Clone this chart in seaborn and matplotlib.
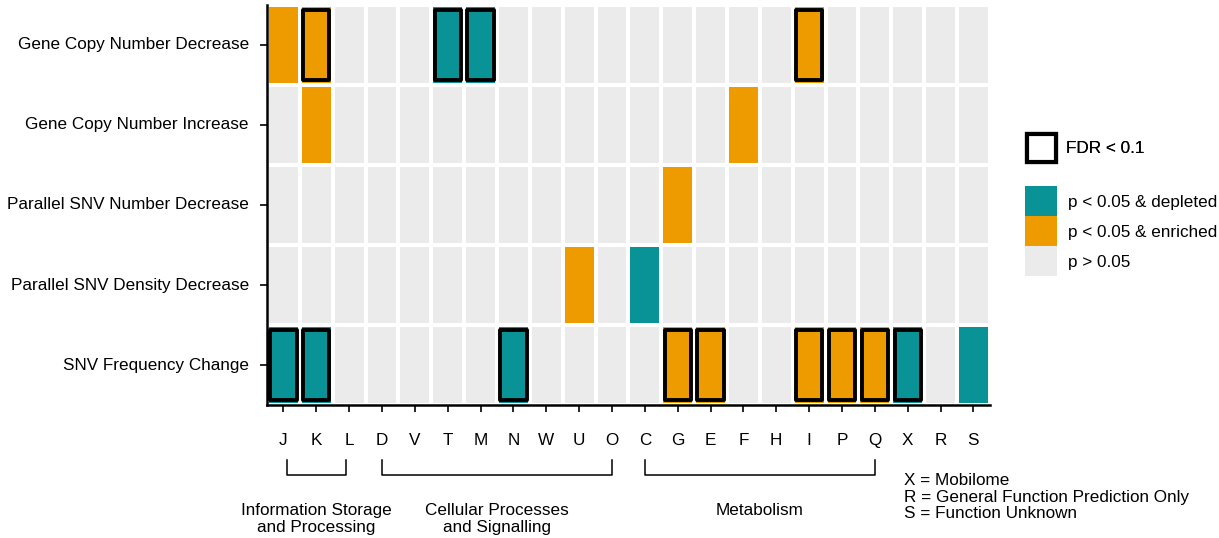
import matplotlib
matplotlib.use("Agg")
import matplotlib.pyplot as plt
from matplotlib.colors import ListedColormap
from matplotlib.patches import Patch, Rectangle
import numpy as np
import pandas as pd
import seaborn as sns

categories = ["J", "K", "L", "D", "V", "T", "M", "N", "W", "U", "O",
              "C", "G", "E", "F", "H", "I", "P", "Q", "X", "R", "S"]
tests = ["Gene Copy Number Decrease", "Gene Copy Number Increase",
         "Parallel SNV Number Decrease", "Parallel SNV Density Decrease",
         "SNV Frequency Change"]

# p < 0.05 categories per test
enriched = {
    "Gene Copy Number Decrease": ["J", "K", "I"],
    "Gene Copy Number Increase": ["K", "F"],
    "Parallel SNV Number Decrease": ["G"],
    "Parallel SNV Density Decrease": ["U"],
    "SNV Frequency Change": ["G", "E", "I", "P", "Q"],
}
depleted = {
    "Gene Copy Number Decrease": ["T", "M"],
    "Gene Copy Number Increase": [],
    "Parallel SNV Number Decrease": [],
    "Parallel SNV Density Decrease": ["C"],
    "SNV Frequency Change": ["J", "K", "N", "X", "S"],
}
fdr_sig = {
    "Gene Copy Number Decrease": ["K", "T", "M", "I"],
    "SNV Frequency Change": ["J", "K", "N", "G", "E", "I", "P", "Q", "X"],
}

groups = [("Information Storage\nand Processing", "J", "L"),
          ("Cellular Processes\nand Signalling", "D", "O"),
          ("Metabolism", "C", "Q")]
notes = ["X = Mobilome", "R = General Function Prediction Only", "S = Function Unknown"]

teal = "#0A9396"
orange = "#EE9B00"
grey = "#EBEBEB"
fs = 12.3

# 0 = ns, 1 = depleted, 2 = enriched
mat = pd.DataFrame(0, index=tests, columns=categories)
for t in tests:
    mat.loc[t, depleted[t]] = 1
    mat.loc[t, enriched[t]] = 2

plt.rcParams["font.family"] = ["Liberation Sans", "DejaVu Sans"]
fig = plt.figure(figsize=(12.19, 5.38), dpi=100)
ax = fig.add_axes([0.219, 0.247, 0.593, 0.744])

sns.heatmap(mat, ax=ax, cmap=ListedColormap([grey, teal, orange]), vmin=-0.5, vmax=2.5,
            cbar=False, linewidths=2.8, linecolor="white", square=False)

# FDR outlines
for t, cats in fdr_sig.items():
    r = tests.index(t)
    for c in cats:
        i = categories.index(c)
        ax.add_patch(Rectangle((i + 0.1, r + 0.06), 0.8, 0.88, fill=False,
                               edgecolor="black", lw=2.8, joinstyle="round"))

for side in ["left", "bottom"]:
    ax.spines[side].set_visible(True)
    ax.spines[side].set_linewidth(1.8)
    ax.spines[side].set_color("black")
ax.tick_params(axis="x", length=5, width=1.2, pad=15, labelsize=fs, rotation=0)
ax.tick_params(axis="y", length=5, width=1.2, pad=8, labelsize=fs, rotation=0)
ax.set_xlabel("")
ax.set_ylabel("")

# group brackets under the axis
tr = ax.get_xaxis_transform()
for label, a, b in groups:
    x0 = categories.index(a) + 0.5
    x1 = categories.index(b) + 0.5
    if a == "J":
        x0, x1 = x0 + 0.1, x1 - 0.1
    ax.plot([x0, x0, x1, x1], [-0.137, -0.175, -0.175, -0.137], color="black",
            lw=1.1, transform=tr, clip_on=False)
    ax.text((x0 + x1) / 2, -0.245, label, ha="center", va="top", fontsize=fs,
            transform=tr, linespacing=1.12)

fig.text(0.742, 0.076, "\n".join(notes), ha="left", va="center", fontsize=fs,
         linespacing=1.12)

leg1 = fig.legend(handles=[Patch(facecolor="white", edgecolor="black", lw=3)],
                  labels=["FDR < 0.1"], loc="center left", bbox_to_anchor=(0.8295, 0.725),
                  frameon=False, fontsize=fs, handlelength=1.7, handleheight=2.1,
                  handletextpad=0.6)
fig.add_artist(leg1)
fig.legend(handles=[Patch(facecolor=teal), Patch(facecolor=orange), Patch(facecolor=grey)],
           labels=["p < 0.05 & depleted", "p < 0.05 & enriched", "p > 0.05"],
           loc="center left", bbox_to_anchor=(0.8285, 0.570), frameon=False,
           fontsize=fs, handlelength=1.87, handleheight=2.32, labelspacing=0,
           handletextpad=0.6)

fig.savefig("out.png", dpi=100)
